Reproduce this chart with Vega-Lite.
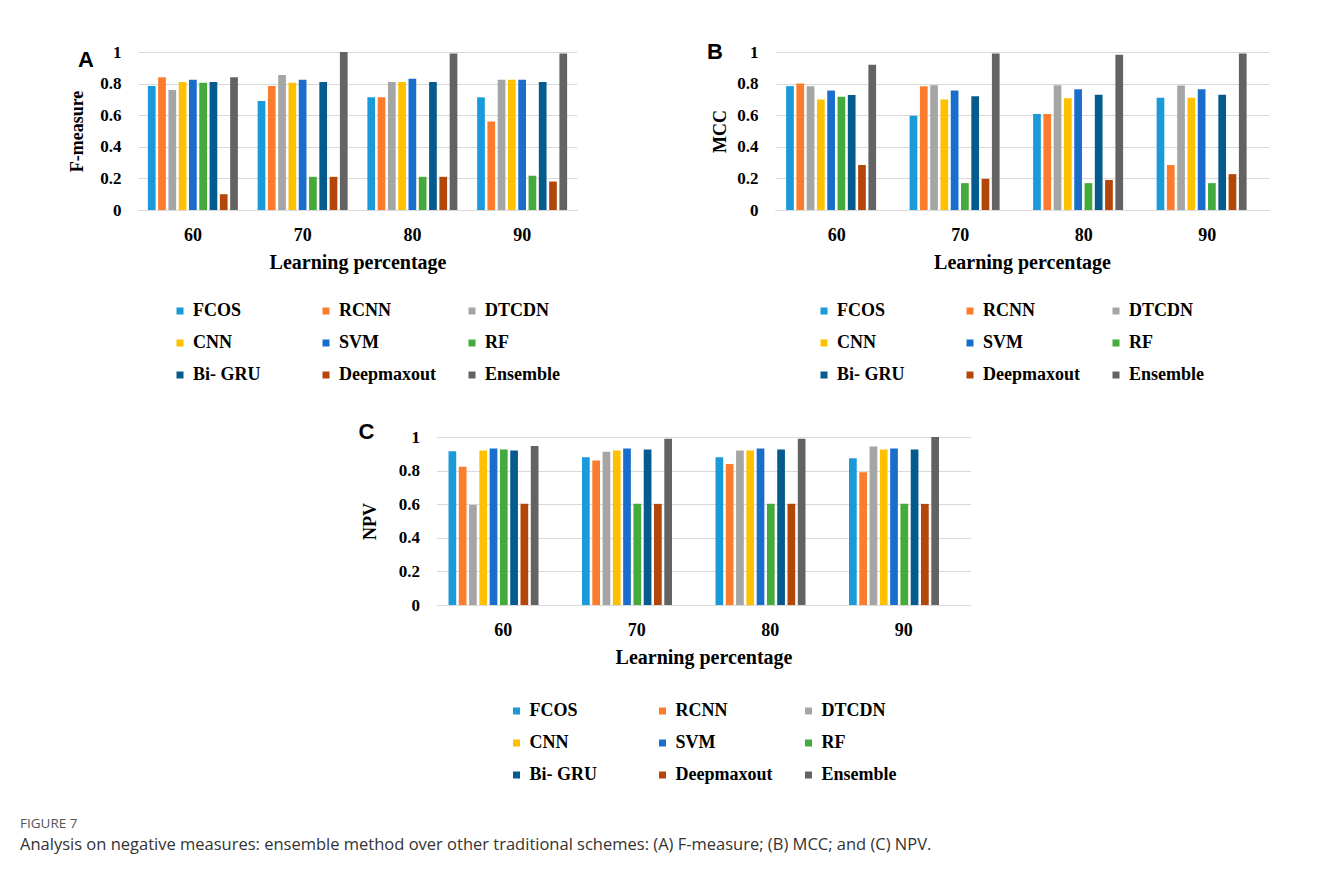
{
  "$schema": "https://vega.github.io/schema/vega-lite/v6.json",
  "padding": {"left": 20, "top": 41, "right": 10, "bottom": 10},
  "background": "white",
  "config": {
    "font": "Liberation Serif",
    "view": {"stroke": null},
    "axis": {"labelFont": "Liberation Serif", "labelFontWeight": "bold", "labelFontSize": 17, "labelColor": "#000", "titleFont": "Liberation Serif", "titleFontWeight": "bold", "titleFontSize": 20, "titleColor": "#000", "ticks": false, "gridColor": "#d9d9d9", "domainColor": "#d9d9d9"},
    "axisX": {"grid": false, "labelAngle": 0, "labelPadding": 16, "labelFontSize": 18, "titlePadding": 8},
    "axisY": {"domain": false, "labelPadding": 17, "titleFontSize": 18},
    "legend": {"orient": "none", "direction": "horizontal", "columns": 3, "gridAlign": "all", "symbolType": "square", "symbolSize": 49, "symbolStrokeWidth": 0, "labelFont": "Liberation Serif", "labelFontWeight": "bold", "labelFontSize": 18, "labelColor": "#000", "columnPadding": 27, "rowPadding": 14, "labelOffset": 4, "padding": 0},
    "title": {"font": "Liberation Sans", "fontSize": 22, "fontWeight": "bold", "color": "#000"}
  },
  "title": {"text": "FIGURE 7", "subtitle": "Analysis on negative measures: ensemble method over other traditional schemes: (A) F-measure; (B) MCC; and (C) NPV.", "orient": "bottom", "anchor": "start", "frame": "group", "dx": -118, "font": "Open Sans", "fontSize": 13.5, "fontWeight": "normal", "color": "#555", "subtitleFont": "Open Sans", "subtitleFontSize": 16.5, "subtitleColor": "#333", "subtitlePadding": 6, "offset": 33},
  "datasets": {
    "fm": [
      {"lp": "60", "method": "FCOS", "value": 0.785}, {"lp": "60", "method": "RCNN", "value": 0.84}, {"lp": "60", "method": "DTCDN", "value": 0.76}, {"lp": "60", "method": "CNN", "value": 0.81}, {"lp": "60", "method": "SVM", "value": 0.825}, {"lp": "60", "method": "RF", "value": 0.805}, {"lp": "60", "method": "Bi- GRU", "value": 0.81}, {"lp": "60", "method": "Deepmaxout", "value": 0.1}, {"lp": "60", "method": "Ensemble", "value": 0.84},
      {"lp": "70", "method": "FCOS", "value": 0.69}, {"lp": "70", "method": "RCNN", "value": 0.785}, {"lp": "70", "method": "DTCDN", "value": 0.855}, {"lp": "70", "method": "CNN", "value": 0.805}, {"lp": "70", "method": "SVM", "value": 0.825}, {"lp": "70", "method": "RF", "value": 0.21}, {"lp": "70", "method": "Bi- GRU", "value": 0.81}, {"lp": "70", "method": "Deepmaxout", "value": 0.21}, {"lp": "70", "method": "Ensemble", "value": 1.0},
      {"lp": "80", "method": "FCOS", "value": 0.713}, {"lp": "80", "method": "RCNN", "value": 0.713}, {"lp": "80", "method": "DTCDN", "value": 0.81}, {"lp": "80", "method": "CNN", "value": 0.81}, {"lp": "80", "method": "SVM", "value": 0.83}, {"lp": "80", "method": "RF", "value": 0.21}, {"lp": "80", "method": "Bi- GRU", "value": 0.81}, {"lp": "80", "method": "Deepmaxout", "value": 0.21}, {"lp": "80", "method": "Ensemble", "value": 0.99},
      {"lp": "90", "method": "FCOS", "value": 0.713}, {"lp": "90", "method": "RCNN", "value": 0.56}, {"lp": "90", "method": "DTCDN", "value": 0.825}, {"lp": "90", "method": "CNN", "value": 0.825}, {"lp": "90", "method": "SVM", "value": 0.825}, {"lp": "90", "method": "RF", "value": 0.217}, {"lp": "90", "method": "Bi- GRU", "value": 0.81}, {"lp": "90", "method": "Deepmaxout", "value": 0.18}, {"lp": "90", "method": "Ensemble", "value": 0.99}
    ],
    "mcc": [
      {"lp": "60", "method": "FCOS", "value": 0.784}, {"lp": "60", "method": "RCNN", "value": 0.8}, {"lp": "60", "method": "DTCDN", "value": 0.784}, {"lp": "60", "method": "CNN", "value": 0.7}, {"lp": "60", "method": "SVM", "value": 0.756}, {"lp": "60", "method": "RF", "value": 0.717}, {"lp": "60", "method": "Bi- GRU", "value": 0.728}, {"lp": "60", "method": "Deepmaxout", "value": 0.285}, {"lp": "60", "method": "Ensemble", "value": 0.92},
      {"lp": "70", "method": "FCOS", "value": 0.597}, {"lp": "70", "method": "RCNN", "value": 0.784}, {"lp": "70", "method": "DTCDN", "value": 0.79}, {"lp": "70", "method": "CNN", "value": 0.7}, {"lp": "70", "method": "SVM", "value": 0.756}, {"lp": "70", "method": "RF", "value": 0.17}, {"lp": "70", "method": "Bi- GRU", "value": 0.72}, {"lp": "70", "method": "Deepmaxout", "value": 0.197}, {"lp": "70", "method": "Ensemble", "value": 0.99},
      {"lp": "80", "method": "FCOS", "value": 0.608}, {"lp": "80", "method": "RCNN", "value": 0.608}, {"lp": "80", "method": "DTCDN", "value": 0.79}, {"lp": "80", "method": "CNN", "value": 0.707}, {"lp": "80", "method": "SVM", "value": 0.764}, {"lp": "80", "method": "RF", "value": 0.17}, {"lp": "80", "method": "Bi- GRU", "value": 0.73}, {"lp": "80", "method": "Deepmaxout", "value": 0.19}, {"lp": "80", "method": "Ensemble", "value": 0.983},
      {"lp": "90", "method": "FCOS", "value": 0.711}, {"lp": "90", "method": "RCNN", "value": 0.285}, {"lp": "90", "method": "DTCDN", "value": 0.788}, {"lp": "90", "method": "CNN", "value": 0.711}, {"lp": "90", "method": "SVM", "value": 0.764}, {"lp": "90", "method": "RF", "value": 0.17}, {"lp": "90", "method": "Bi- GRU", "value": 0.73}, {"lp": "90", "method": "Deepmaxout", "value": 0.227}, {"lp": "90", "method": "Ensemble", "value": 0.99}
    ],
    "npv": [
      {"lp": "60", "method": "FCOS", "value": 0.915}, {"lp": "60", "method": "RCNN", "value": 0.823}, {"lp": "60", "method": "DTCDN", "value": 0.596}, {"lp": "60", "method": "CNN", "value": 0.92}, {"lp": "60", "method": "SVM", "value": 0.932}, {"lp": "60", "method": "RF", "value": 0.926}, {"lp": "60", "method": "Bi- GRU", "value": 0.92}, {"lp": "60", "method": "Deepmaxout", "value": 0.602}, {"lp": "60", "method": "Ensemble", "value": 0.946},
      {"lp": "70", "method": "FCOS", "value": 0.88}, {"lp": "70", "method": "RCNN", "value": 0.86}, {"lp": "70", "method": "DTCDN", "value": 0.912}, {"lp": "70", "method": "CNN", "value": 0.92}, {"lp": "70", "method": "SVM", "value": 0.932}, {"lp": "70", "method": "RF", "value": 0.602}, {"lp": "70", "method": "Bi- GRU", "value": 0.926}, {"lp": "70", "method": "Deepmaxout", "value": 0.602}, {"lp": "70", "method": "Ensemble", "value": 0.99},
      {"lp": "80", "method": "FCOS", "value": 0.88}, {"lp": "80", "method": "RCNN", "value": 0.84}, {"lp": "80", "method": "DTCDN", "value": 0.92}, {"lp": "80", "method": "CNN", "value": 0.92}, {"lp": "80", "method": "SVM", "value": 0.932}, {"lp": "80", "method": "RF", "value": 0.602}, {"lp": "80", "method": "Bi- GRU", "value": 0.926}, {"lp": "80", "method": "Deepmaxout", "value": 0.602}, {"lp": "80", "method": "Ensemble", "value": 0.99},
      {"lp": "90", "method": "FCOS", "value": 0.873}, {"lp": "90", "method": "RCNN", "value": 0.79}, {"lp": "90", "method": "DTCDN", "value": 0.944}, {"lp": "90", "method": "CNN", "value": 0.926}, {"lp": "90", "method": "SVM", "value": 0.932}, {"lp": "90", "method": "RF", "value": 0.602}, {"lp": "90", "method": "Bi- GRU", "value": 0.926}, {"lp": "90", "method": "Deepmaxout", "value": 0.602}, {"lp": "90", "method": "Ensemble", "value": 1.0}
    ]
  },
  "resolve": {"scale": {"color": "independent"}, "legend": {"color": "independent"}},
  "center": true,
  "spacing": 37,
  "vconcat": [
    {
      "hconcat": [
        {
          "data": {"name": "fm"},
          "width": 439, "height": 158,
          "title": {"text": "A", "anchor": "start", "frame": "group", "dx": -60, "dy": 29, "offset": 0, "baseline": "top"},
          "mark": {"type": "bar"},
          "encoding": {
            "x": {"field": "lp", "type": "nominal", "scale": {"paddingInner": 0.18, "paddingOuter": 0.09}, "axis": {"title": "Learning percentage"}},
            "xOffset": {"field": "method", "type": "nominal", "scale": {"domain": ["FCOS", "RCNN", "DTCDN", "CNN", "SVM", "RF", "Bi- GRU", "Deepmaxout", "Ensemble"], "paddingInner": 0.25, "paddingOuter": 0}},
            "y": {"field": "value", "type": "quantitative", "scale": {"domain": [0, 1], "nice": false}, "axis": {"title": "F-measure", "titlePadding": 13, "values": [0, 0.2, 0.4, 0.6, 0.8, 1], "format": ".1~f"}},
            "color": {"field": "method", "type": "nominal", "scale": {"domain": ["FCOS", "RCNN", "DTCDN", "CNN", "SVM", "RF", "Bi- GRU", "Deepmaxout", "Ensemble"], "range": ["#1a9ad9", "#fb7c2c", "#a5a5a5", "#ffc000", "#1a6ecb", "#44aa3c", "#065b8e", "#b3470a", "#636363"]}, "legend": {"title": null, "legendX": 33, "legendY": 250}}
          }
        },
        {
          "data": {"name": "mcc"},
          "width": 494, "height": 158,
          "title": {"text": "B", "anchor": "start", "frame": "group", "dx": -68, "dy": 21, "offset": 0, "baseline": "top"},
          "mark": {"type": "bar"},
          "encoding": {
            "x": {"field": "lp", "type": "nominal", "scale": {"paddingInner": 0.18, "paddingOuter": 0.09}, "axis": {"title": "Learning percentage"}},
            "xOffset": {"field": "method", "type": "nominal", "scale": {"domain": ["FCOS", "RCNN", "DTCDN", "CNN", "SVM", "RF", "Bi- GRU", "Deepmaxout", "Ensemble"], "paddingInner": 0.25, "paddingOuter": 0}},
            "y": {"field": "value", "type": "quantitative", "scale": {"domain": [0, 1], "nice": false}, "axis": {"title": "MCC", "titlePadding": 7, "values": [0, 0.2, 0.4, 0.6, 0.8, 1], "format": ".1~f"}},
            "color": {"field": "method", "type": "nominal", "scale": {"domain": ["FCOS", "RCNN", "DTCDN", "CNN", "SVM", "RF", "Bi- GRU", "Deepmaxout", "Ensemble"], "range": ["#1a9ad9", "#fb7c2c", "#a5a5a5", "#ffc000", "#1a6ecb", "#44aa3c", "#065b8e", "#b3470a", "#636363"]}, "legend": {"title": null, "legendX": 40, "legendY": 250}}
          }
        }
      ],
      "spacing": 130,
      "resolve": {"scale": {"color": "independent"}, "legend": {"color": "independent"}}
    },
    {
      "data": {"name": "npv"},
      "width": 534, "height": 168,
      "title": {"text": "C", "anchor": "start", "frame": "group", "dx": -78, "dy": 16, "offset": 0, "baseline": "top"},
      "mark": {"type": "bar"},
      "encoding": {
        "x": {"field": "lp", "type": "nominal", "scale": {"paddingInner": 0.18, "paddingOuter": 0.09}, "axis": {"title": "Learning percentage"}},
        "xOffset": {"field": "method", "type": "nominal", "scale": {"domain": ["FCOS", "RCNN", "DTCDN", "CNN", "SVM", "RF", "Bi- GRU", "Deepmaxout", "Ensemble"], "paddingInner": 0.25, "paddingOuter": 0}},
        "y": {"field": "value", "type": "quantitative", "scale": {"domain": [0, 1], "nice": false}, "axis": {"title": "NPV", "titlePadding": 19, "values": [0, 0.2, 0.4, 0.6, 0.8, 1], "format": ".1~f"}},
        "color": {"field": "method", "type": "nominal", "scale": {"domain": ["FCOS", "RCNN", "DTCDN", "CNN", "SVM", "RF", "Bi- GRU", "Deepmaxout", "Ensemble"], "range": ["#1a9ad9", "#fb7c2c", "#a5a5a5", "#ffc000", "#1a6ecb", "#44aa3c", "#065b8e", "#b3470a", "#636363"]}, "legend": {"title": null, "legendX": 71, "legendY": 265}}
      }
    }
  ]
}
